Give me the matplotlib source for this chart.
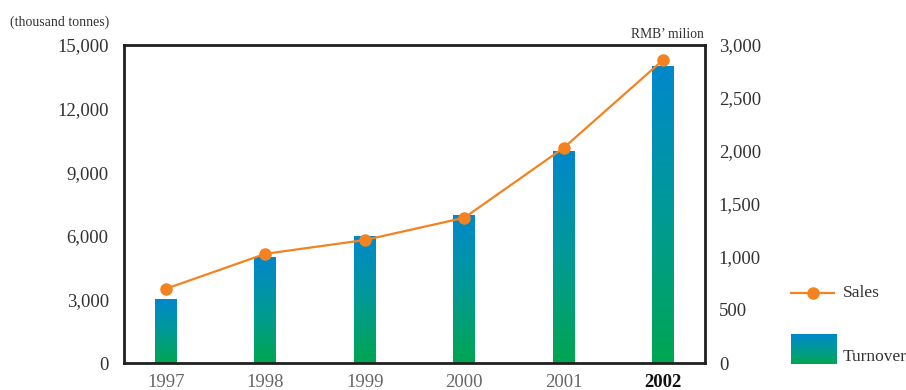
import numpy as np
import matplotlib
matplotlib.use("Agg")
import matplotlib.pyplot as plt
from matplotlib.colors import LinearSegmentedColormap
from matplotlib.lines import Line2D

years = ["1997", "1998", "1999", "2000", "2001", "2002"]
turnover = [3000, 5000, 6000, 7000, 10000, 14000]      # thousand tonnes (left axis)
sales = [700, 1030, 1160, 1370, 2030, 2860]            # RMB' million (right axis)
left_ticks = [0, 3000, 6000, 9000, 12000, 15000]
right_ticks = [0, 500, 1000, 1500, 2000, 2500, 3000]

plt.rcParams['font.family'] = ['Liberation Serif', 'DejaVu Serif']

blue = "#0088cc"
green = "#00a651"
orange = "#f58220"
frame = "#231f20"
grad_cmap = LinearSegmentedColormap.from_list("bg", [green, "#009a96", blue])
grad = np.linspace(0, 1, 256).reshape(-1, 1)

fig = plt.figure(figsize=(9.06, 3.9), dpi=100)
ax = fig.add_axes([124 / 906, 27 / 390, 581 / 906, 318 / 390])

x = np.arange(len(years))
bars = ax.bar(x, turnover, width=0.22, color="none", edgecolor="none")
for b in bars:
    x0, y0 = b.get_x(), b.get_y()
    im = ax.imshow(grad, extent=[x0, x0 + b.get_width(), y0, y0 + b.get_height()],
                   origin="lower", cmap=grad_cmap, aspect="auto", zorder=2)
    im.set_clip_path(b)

ax.set_xlim(-0.42, len(years) - 1 + 0.42)
ax.set_ylim(0, 15000)
ax.set_yticks(left_ticks)
ax.set_yticklabels([f"{v:,}" for v in left_ticks], fontsize=13.5, color="#333333")
ax.set_xticks(x)
ax.set_xticklabels(years, fontsize=13.5, color="#666666")
lbls = ax.get_xticklabels()
lbls[-1].set_fontweight("bold")
lbls[-1].set_color("#111111")
ax.tick_params(axis="both", length=0)
ax.tick_params(axis="y", pad=11)
ax.tick_params(axis="x", pad=8)
for s in ax.spines.values():
    s.set_linewidth(2)
    s.set_color(frame)

ax2 = ax.twinx()
ax2.plot(x, sales, color=orange, lw=1.6, marker="o", markersize=8, zorder=5)
ax2.set_ylim(0, 3000)
ax2.set_yticks(right_ticks)
ax2.set_yticklabels([f"{v:,}" for v in right_ticks], fontsize=13.5, color="#333333")
ax2.tick_params(axis="y", length=0, pad=10)
for s in ax2.spines.values():
    s.set_visible(False)

fig.text(10 / 906, 1 - 22 / 390, "(thousand tonnes)", fontsize=10, color="#333333",
         ha="left", va="center")
fig.text(704 / 906, 1 - 35 / 390, "RMB\u2019 milion", fontsize=9.8, color="#333333",
         ha="right", va="center")

# legend, drawn by hand outside the plot
fig.add_artist(Line2D([791 / 906, 834 / 906], [1 - 293 / 390] * 2, color=orange, lw=1.6))
fig.add_artist(Line2D([813 / 906], [1 - 293 / 390], color=orange, marker="o",
                      markersize=8, lw=0))
fig.text(843 / 906, 1 - 293 / 390, "Sales", fontsize=12.5, color="#333333", va="center")
lax = fig.add_axes([791 / 906, 1 - 364 / 390, 46 / 906, 30 / 390])
lax.imshow(grad, origin="lower", cmap=grad_cmap, aspect="auto")
lax.axis("off")
fig.text(843 / 906, 1 - 357 / 390, "Turnover", fontsize=12.5, color="#333333", va="center")

fig.savefig("out.png", dpi=100)
